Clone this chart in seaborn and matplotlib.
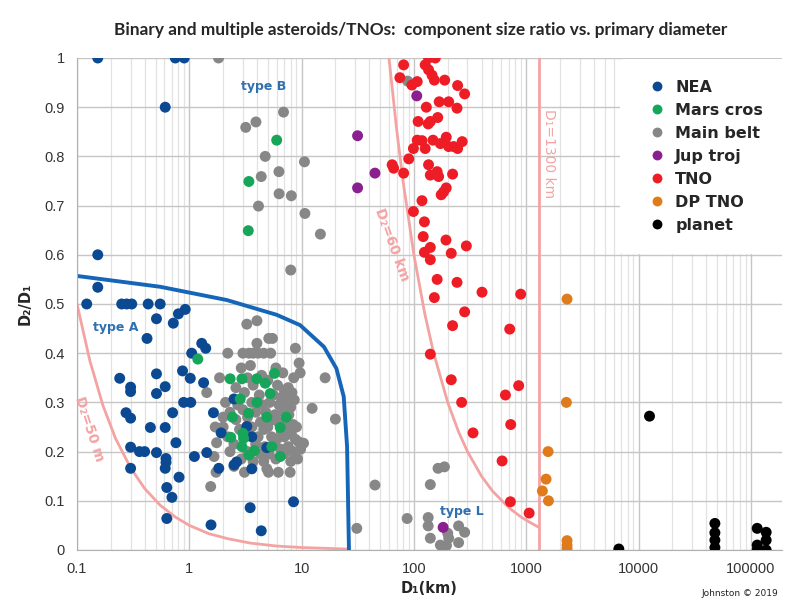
import matplotlib
matplotlib.use("Agg")
import matplotlib.pyplot as plt
import matplotlib.ticker as mticker
import pandas as pd
import seaborn as sns

# --- data (D1 in km, D2/D1) ---
nea_x = [0.153, 0.75, 0.90, 0.61, 0.153, 0.153, 0.122, 0.25, 0.277, 0.307, 0.43, 0.55,
         0.51, 0.72, 0.80, 0.92, 0.42, 1.29, 1.4, 1.05, 0.24, 0.3, 0.3, 0.51, 0.51, 0.61,
         0.87, 1.02, 1.34, 0.89, 1.03, 0.273, 0.3, 0.71, 1.64, 0.45, 0.61, 0.76, 0.3, 0.36,
         0.40, 0.51, 0.62, 0.62, 0.61, 0.3, 1.11, 1.43, 1.83, 0.81, 0.63, 0.70, 0.63, 1.56,
         3.48, 4.37, 8.47, 2.5, 1.92, 3.25, 3.6, 4.9, 2.5, 2.64, 3.6]
nea_y = [1.0, 1.0, 1.0, 0.9, 0.6, 0.534, 0.5, 0.5, 0.5, 0.5, 0.5, 0.5,
         0.47, 0.461, 0.48, 0.489, 0.43, 0.42, 0.41, 0.4, 0.349, 0.331, 0.322, 0.358, 0.318, 0.332,
         0.364, 0.349, 0.34, 0.3, 0.3, 0.279, 0.268, 0.279, 0.279, 0.249, 0.249, 0.218, 0.209, 0.2,
         0.2, 0.198, 0.186, 0.178, 0.166, 0.166, 0.19, 0.198, 0.166, 0.148, 0.127, 0.107, 0.064, 0.051,
         0.086, 0.039, 0.098, 0.307, 0.238, 0.251, 0.23, 0.208, 0.173, 0.179, 0.165]

mars_x = [6.0, 3.39, 3.35, 1.19, 2.31, 2.94, 3.99, 4.74, 5.73, 5.25, 2.84, 4.0, 3.37,
          2.42, 4.9, 7.3, 6.45, 3.0, 2.34, 3.04, 2.94, 3.8, 3.4, 5.43, 6.45]
mars_y = [0.833, 0.749, 0.649, 0.388, 0.348, 0.348, 0.348, 0.339, 0.359, 0.318, 0.307, 0.3, 0.278,
          0.27, 0.27, 0.27, 0.249, 0.237, 0.229, 0.227, 0.21, 0.202, 0.193, 0.21, 0.19]

belt_x = [1.82, 3.18, 3.92, 6.9, 4.74, 4.37, 6.28, 10.6, 6.3, 8.1, 4.13, 10.7, 14.7, 8.0,
          3.25, 4.0, 5.1, 5.5, 4.0, 2.2, 3.0, 3.4, 3.7, 4.1, 4.6, 5.3, 8.8,
          2.9, 3.5, 5.9, 9.5, 6.8, 1.86, 8.5, 16.2, 9.7, 3.3, 4.4, 5.0,
          2.6, 3.7, 6.1, 7.0, 7.6, 8.2, 1.43, 3.1, 4.2, 5.6, 6.6, 7.9, 8.6,
          2.1, 2.7, 3.6, 4.5, 5.2, 6.3, 7.3, 8.0, 12.4, 2.3, 3.0, 3.9, 4.8, 5.8, 6.9, 7.7,
          2.0, 20.0, 2.6, 3.3, 4.3, 5.5, 6.2, 7.1, 8.4, 1.7, 2.0, 2.8, 3.6, 4.6, 5.0, 6.6, 7.5, 9.0,
          2.2, 3.2, 4.1, 5.4, 6.0, 7.0, 8.1, 8.8, 1.75, 10.4, 9.4, 2.5, 3.9, 4.7, 5.7, 6.5, 7.6,
          2.3, 3.3, 4.3, 5.1, 6.9, 7.3, 8.5, 9.8, 1.66, 2.9, 3.7, 4.6, 5.9, 8.0, 9.2,
          1.73, 3.1, 4.9, 5.07, 6.2, 7.9, 2.5, 1.55, 31.0,
          45, 140, 164, 187, 87, 134, 134, 250, 283, 200, 140, 204, 250, 172, 195, 88]
belt_y = [1.0, 0.859, 0.87, 0.89, 0.80, 0.759, 0.769, 0.789, 0.724, 0.72, 0.699, 0.684, 0.642, 0.569,
          0.459, 0.466, 0.43, 0.43, 0.42, 0.40, 0.40, 0.40, 0.40, 0.40, 0.40, 0.40, 0.41,
          0.37, 0.375, 0.37, 0.38, 0.36, 0.35, 0.35, 0.35, 0.36, 0.35, 0.355, 0.345,
          0.33, 0.335, 0.335, 0.325, 0.33, 0.32, 0.32, 0.32, 0.315, 0.315, 0.31, 0.31, 0.305,
          0.30, 0.295, 0.30, 0.295, 0.30, 0.295, 0.30, 0.29, 0.288, 0.28, 0.285, 0.28, 0.28, 0.275, 0.28, 0.275,
          0.27, 0.266, 0.265, 0.27, 0.26, 0.265, 0.26, 0.26, 0.255, 0.25, 0.25, 0.245, 0.25, 0.245, 0.25, 0.24, 0.245, 0.25,
          0.23, 0.235, 0.23, 0.23, 0.225, 0.23, 0.235, 0.225, 0.218, 0.217, 0.22, 0.215, 0.215, 0.21, 0.215, 0.205, 0.21,
          0.20, 0.20, 0.195, 0.195, 0.195, 0.2, 0.2, 0.205, 0.19, 0.185, 0.18, 0.18, 0.185, 0.18, 0.185,
          0.158, 0.158, 0.165, 0.158, 0.158, 0.158, 0.17, 0.129, 0.044,
          0.132, 0.133, 0.166, 0.169, 0.064, 0.066, 0.049, 0.049, 0.036, 0.034, 0.024, 0.024, 0.015, 0.01, 0.009, 0.953]

jup_x = [31.5, 31.5, 45, 106, 182]
jup_y = [0.842, 0.736, 0.766, 0.923, 0.046]

tno_x = [135, 155, 81, 126, 135, 145, 75, 107, 96, 152, 188, 245, 283, 168, 204, 242, 129, 163, 140, 134, 109,
         107, 118, 148, 172, 194, 204, 226, 245, 269, 126, 99,
         64, 66, 90, 81, 135, 140, 161, 166, 221, 194, 184, 175, 118, 99, 124, 121, 193, 293, 140, 124,
         215, 140, 161, 242, 404, 893, 152,
         283, 221, 713, 140, 215, 857, 653, 266, 728, 336, 610, 723, 1062]
tno_y = [1.0, 1.0, 0.986, 0.986, 0.976, 0.965, 0.96, 0.952, 0.945, 0.955, 0.955, 0.944, 0.927, 0.911, 0.911, 0.898, 0.9, 0.879, 0.871, 0.866, 0.871,
         0.833, 0.832, 0.833, 0.826, 0.839, 0.82, 0.82, 0.816, 0.83, 0.816, 0.816,
         0.783, 0.776, 0.795, 0.766, 0.783, 0.762, 0.769, 0.759, 0.764, 0.736, 0.728, 0.722, 0.71, 0.688, 0.667, 0.637, 0.63, 0.618, 0.615, 0.605,
         0.603, 0.59, 0.55, 0.544, 0.524, 0.52, 0.513,
         0.484, 0.456, 0.449, 0.398, 0.346, 0.334, 0.315, 0.3, 0.255, 0.238, 0.181, 0.098, 0.075]

dptno_x = [2310, 2280, 1566, 1503, 1393, 1578, 2310, 2310, 2310]
dptno_y = [0.51, 0.3, 0.2, 0.144, 0.12, 0.1, 0.019, 0.01, 0.003]

planet_x = [6680, 12530, 47900, 47900, 47900, 47900, 114000, 137000, 137000, 114000, 114000, 137000]
planet_y = [0.002, 0.272, 0.054, 0.035, 0.02, 0.005, 0.044, 0.036, 0.02, 0.01, 0.0, 0.0]

# guide curves
typea_x = [0.1, 0.55, 2.16, 6.0, 9.7, 15.8, 20.4, 23.7, 25.4, 26.4]
typea_y = [0.557, 0.535, 0.508, 0.478, 0.457, 0.413, 0.369, 0.312, 0.21, 0.0]
d50m_x = [0.1, 0.13, 0.17, 0.22, 0.3, 0.4, 0.55, 0.75, 1.0, 1.5, 2.2, 3.5, 6.0, 10.0, 25.0]
d50m_y = [0.5, 0.385, 0.294, 0.227, 0.167, 0.125, 0.091, 0.067, 0.05, 0.033, 0.023, 0.014, 0.008, 0.005, 0.002]
d60km_x = [60, 70, 80, 100, 125, 150, 200, 250, 300, 400, 500, 700, 900, 1100, 1300]
d60km_y = [1.0, 0.857, 0.75, 0.6, 0.48, 0.4, 0.3, 0.24, 0.2, 0.15, 0.12, 0.086, 0.067, 0.055, 0.046]
d1300_x = [1300, 1300]
d1300_y = [0.0, 1.0]

groups = ["NEA", "Mars cros", "Main belt", "Jup troj", "TNO", "DP TNO", "planet"]
colors = ["#0b4a92", "#17a55a", "#878787", "#8a1f8f", "#ee1c25", "#e07b1c", "#000000"]

series = {"NEA": (nea_x, nea_y), "Mars cros": (mars_x, mars_y), "Main belt": (belt_x, belt_y),
          "Jup troj": (jup_x, jup_y), "TNO": (tno_x, tno_y), "DP TNO": (dptno_x, dptno_y),
          "planet": (planet_x, planet_y)}
# drawing order: main belt underneath, NEA and Mars crossers on top
draw_order = ["Main belt", "NEA", "Mars cros", "Jup troj", "TNO", "DP TNO", "planet"]
df = pd.concat([pd.DataFrame({"D1": series[g][0], "ratio": series[g][1], "group": g}) for g in draw_order],
               ignore_index=True)

sns.set_style("white")
fig = plt.figure(figsize=(7.9, 6.15), dpi=100)
ax = fig.add_axes([0.0975, 0.1057, 0.8925, 0.8])

pink = "#f4a3a3"
ax.plot(d50m_x, d50m_y, color=pink, lw=2.0, zorder=2)
ax.plot(d60km_x, d60km_y, color=pink, lw=2.0, zorder=2)
ax.plot(d1300_x, d1300_y, color=pink, lw=2.0, zorder=2)
ax.plot(typea_x, typea_y, color="#1565b8", lw=2.8, zorder=2)

sns.scatterplot(data=df, x="D1", y="ratio", hue="group", hue_order=groups,
                palette=colors, s=62, linewidth=0, alpha=1, ax=ax, zorder=3)

ax.set_xscale("log")
ax.set_ylim(0, 1)
ax.set_yticks([i / 10 for i in range(11)])
ax.yaxis.set_major_formatter(mticker.FuncFormatter(lambda v, p: "{:g}".format(round(v, 1))))
ax.set_xticks([0.1, 1, 10, 100, 1000, 10000, 100000])
ax.xaxis.set_minor_locator(mticker.LogLocator(base=10, subs=range(2, 10)))
ax.set_xticklabels(["0.1", "1", "10", "100", "1000", "10000", "100000"])
ax.xaxis.set_minor_formatter(mticker.NullFormatter())
ax.set_xlim(0.1, 1.9e5)

ax.grid(True, which="major", color="#c6c6c6", lw=1.0, zorder=0)
ax.grid(True, which="minor", axis="x", color="#e2e2e2", lw=0.9, zorder=0)
ax.set_axisbelow(True)
for side in ["top", "right"]:
    ax.spines[side].set_visible(False)
for side in ["left", "bottom"]:
    ax.spines[side].set_color("#b0b0b0")
ax.tick_params(axis="both", which="major", length=4, color="#b0b0b0", labelsize=10.5,
               labelcolor="#333333", pad=5)
ax.tick_params(axis="x", which="minor", length=0)
for lab in ax.get_xticklabels() + ax.get_yticklabels():
    lab.set_family("Liberation Sans")

ax.set_xlabel("D\u2081(km)", fontsize=10.5, fontweight="bold", family="DejaVu Sans", labelpad=3)
ax.set_ylabel("D\u2082/D\u2081", fontsize=10.5, fontweight="bold", family="DejaVu Sans", labelpad=8)

leg = ax.legend(loc="upper right", frameon=True, facecolor="white", edgecolor="white", framealpha=1,
                prop={"family": "DejaVu Sans", "weight": "bold", "size": 11.5},
                handletextpad=0.15, labelspacing=0.5, borderpad=1.3, markerscale=0.9,
                bbox_to_anchor=(1.014, 1.014))
leg.get_frame().set_linewidth(0)

blue_txt = "#2e70b0"
ax.text(2.9, 0.935, "type B", color=blue_txt, fontsize=9, fontweight="bold", family="DejaVu Sans")
ax.text(0.139, 0.445, "type A", color=blue_txt, fontsize=9, fontweight="bold", family="DejaVu Sans")
ax.text(172, 0.072, "type L", color=blue_txt, fontsize=9, fontweight="bold", family="DejaVu Sans")
ax.text(0.128, 0.245, "D\u2082=50 m", color=pink, fontsize=10, fontweight="bold",
        rotation=-72, ha="center", va="center", family="DejaVu Sans")
ax.text(64, 0.62, "D\u2082=60 km", color=pink, fontsize=10, fontweight="bold",
        rotation=-70, ha="center", va="center", family="DejaVu Sans")
ax.text(1590, 0.805, "D\u2081=1300 km", color=pink, fontsize=10,
        rotation=-90, ha="center", va="center", family="DejaVu Sans")

fig.text(0.532, 1 - 30 / 615, "Binary and multiple asteroids/TNOs:  component size ratio vs. primary diameter",
         ha="center", va="center", fontsize=12.4, fontweight="bold", family="Lato")
fig.text(0.985, 1 - 594 / 615, "Johnston \u00a9 2019", ha="right", va="center", fontsize=6.5,
         family="DejaVu Sans", color="#222222")

fig.savefig("out.png", dpi=100)
